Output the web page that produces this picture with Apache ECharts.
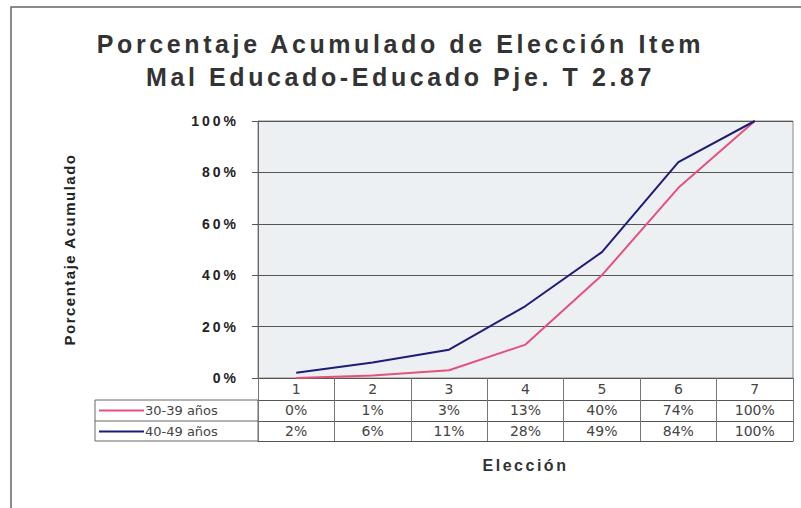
<!DOCTYPE html>
<html>
<head>
<meta charset="utf-8">
<script src="https://cdn.jsdelivr.net/npm/echarts@6/dist/echarts.min.js"></script>
<style>
  html, body { margin: 0; padding: 0; background: #fff; }
  #chart { width: 801px; height: 508px; }
</style>
</head>
<body>
<div id="chart"></div>
<script>
var elecciones = ['1', '2', '3', '4', '5', '6', '7'];
var serie30 = [0, 1, 3, 13, 40, 74, 100];
var serie40 = [2, 6, 11, 28, 49, 84, 100];
var nombres = ['30-39 años', '40-49 años'];
var yTicks = [0, 20, 40, 60, 80, 100];

var chart = echarts.init(document.getElementById('chart'), null, { renderer: 'svg' });

var tabla = { fontFamily: 'DejaVu Sans', fontSize: 14, color: '#444' };

chart.setOption({
  animation: false,
  title: {
    text: 'Porcentaje Acumulado de Elección Item\nMal Educado-Educado Pje. T 2.87',
    left: 'center',
    top: 22,
    textStyle: { fontFamily: 'Liberation Sans', fontSize: 25, fontWeight: 'bold', color: '#333', lineHeight: 33 }
  },
  legend: {
    data: nombres,
    orient: 'vertical',
    left: 99,
    top: 403,
    padding: 0,
    icon: 'rect',
    itemWidth: 45,
    itemHeight: 2,
    itemGap: 6,
    textStyle: { fontFamily: 'DejaVu Sans', fontSize: 13, color: '#444', lineHeight: 15, padding: [0, 0, 0, -4] }
  },
  grid: {
    left: 258, right: 8, top: 121, bottom: 130,
    show: true, backgroundColor: '#edf0f2', borderColor: '#888', borderWidth: 1
  },
  graphic: [
    { type: 'rect', shape: { x: 11, y: 7, width: 800, height: 510 }, style: { fill: null, stroke: '#666', lineWidth: 1.5 }, silent: true },
    { type: 'rect', shape: { x: 95, y: 400, width: 163, height: 41 }, style: { fill: null, stroke: '#666', lineWidth: 1 }, silent: true },
    { type: 'line', shape: { x1: 95, y1: 421, x2: 258, y2: 421 }, style: { stroke: '#666', lineWidth: 1 }, silent: true }
  ],
  xAxis: [
    {
      type: 'category', data: elecciones, position: 'bottom', offset: 0,
      axisLine: { show: true, lineStyle: { color: '#555' } },
      axisTick: { show: true, length: 22, interval: 0, lineStyle: { color: '#777' } },
      axisLabel: Object.assign({ margin: 4, interval: 0 }, tabla)
    },
    {
      type: 'category', data: elecciones, position: 'bottom', offset: 22,
      axisLine: { show: true, lineStyle: { color: '#555' } },
      axisTick: { show: true, length: 21, interval: 0, lineStyle: { color: '#777' } },
      axisLabel: Object.assign({ margin: 3, interval: 0, formatter: function (v, i) { return serie30[i] + '%'; } }, tabla)
    },
    {
      type: 'category', data: elecciones, position: 'bottom', offset: 43,
      axisLine: { show: true, lineStyle: { color: '#555' } },
      axisTick: { show: true, length: 20, interval: 0, lineStyle: { color: '#777' } },
      axisLabel: Object.assign({ margin: 3, interval: 0, formatter: function (v, i) { return serie40[i] + '%'; } }, tabla)
    },
    {
      type: 'category', data: elecciones, position: 'bottom', offset: 63,
      axisLine: { show: true, lineStyle: { color: '#555' } },
      axisTick: { show: false },
      axisLabel: { show: false },
      name: 'Elección',
      nameLocation: 'middle',
      nameGap: 16,
      nameTextStyle: { fontFamily: 'Liberation Sans', fontSize: 16, fontWeight: 'bold', color: '#333' }
    }
  ],
  yAxis: {
    type: 'value',
    min: yTicks[0],
    max: yTicks[yTicks.length - 1],
    interval: 20,
    name: 'Porcentaje Acumulado',
    nameLocation: 'middle',
    nameGap: 181,
    nameTextStyle: { fontFamily: 'Liberation Sans', fontSize: 15, fontWeight: 'bold', color: '#222' },
    axisLine: { show: true, lineStyle: { color: '#666' } },
    axisTick: { show: true, length: 6, lineStyle: { color: '#555' } },
    axisLabel: { formatter: '{value}%', margin: 19, fontFamily: 'Liberation Sans', fontSize: 14, fontWeight: 'bold', color: '#222' },
    splitLine: { show: true, lineStyle: { color: '#555', width: 1 } }
  },
  series: [
    {
      name: nombres[0], type: 'line', data: serie30, xAxisIndex: 0,
      symbol: 'none', itemStyle: { color: '#e4517c' }, lineStyle: { color: '#e4517c', width: 2 }
    },
    {
      name: nombres[1], type: 'line', data: serie40, xAxisIndex: 0,
      symbol: 'none', itemStyle: { color: '#1d1d78' }, lineStyle: { color: '#1d1d78', width: 2 }
    }
  ]
});

// espaciado de letras como en el original
function espaciar() {
  var spacing = { '25px': '3.6px', '16px': '2.5px', '15px': '1.5px', '14px': '3px' };
  var texts = document.querySelectorAll('#chart svg text');
  for (var i = 0; i < texts.length; i++) {
    var t = texts[i];
    var fs = getComputedStyle(t).fontSize;
    if (fs === '14px' && getComputedStyle(t).fontWeight < 600) continue;
    if (spacing[fs]) t.style.letterSpacing = spacing[fs];
  }
}
espaciar();
chart.on('finished', espaciar);
</script>
</body>
</html>
